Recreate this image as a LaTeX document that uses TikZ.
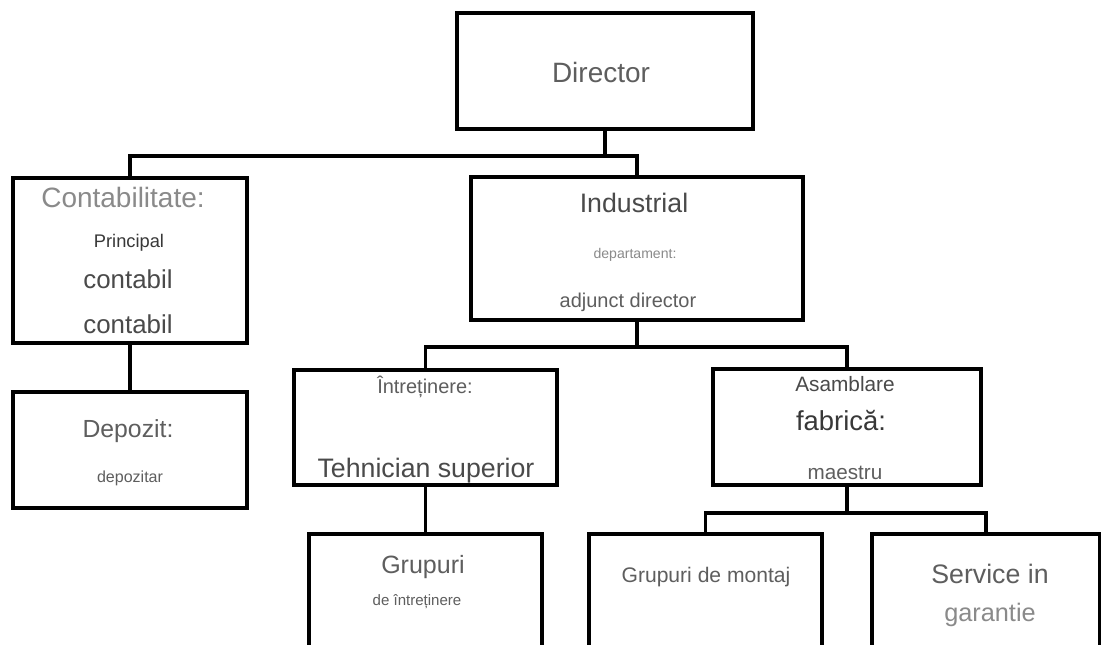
\documentclass[tikz,border=0pt]{standalone}
\usepackage{fontspec}
\setmainfont{Liberation Sans}
\usetikzlibrary{calc}
\definecolor{inkdark}{HTML}{383838}
\definecolor{inkmid}{HTML}{4A4A4A}
\definecolor{inksoft}{HTML}{5E5E5E}
\definecolor{inkpale}{HTML}{8A8A8A}
\tikzset{
  box/.style={draw, line width=2.8pt, line join=miter, inner sep=0pt},
  link/.style={line width=2.8pt, line join=miter},
  lbl/.style={anchor=base, inner sep=0pt, font=\fontsize{#1}{#1}\selectfont},
}
\begin{document}
\begin{tikzpicture}[x=0.025cm, y=-0.025cm]
  \useasboundingbox (0,0) rectangle (1101,645);
  \fill[white] (0,0) rectangle (1101,645);
  \clip (0,0) rectangle (1101,645);
  % boxes
  \node[box, minimum width=7.4cm, minimum height=2.9cm] (dir) at (605,71) {};
  \node[box, minimum width=5.85cm, minimum height=4.125cm] (cont) at (130,260.5) {};
  \node[box, minimum width=8.3cm, minimum height=3.575cm] (ind) at (637,248.5) {};
  \node[box, minimum width=5.85cm, minimum height=2.9cm] (dep) at (130,450) {};
  \node[box, minimum width=6.575cm, minimum height=2.875cm] (intr) at (425.5,427.5) {};
  \node[box, minimum width=6.7cm, minimum height=2.9cm] (asm) at (847,427) {};
  \node[box, minimum width=5.825cm, minimum height=4.15cm] (grup) at (425.5,617) {};
  \node[box, minimum width=5.825cm, minimum height=4.15cm] (mont) at (705.5,617) {};
  \node[box, minimum width=5.7cm, minimum height=4.15cm] (serv) at (986,617) {};
  % connectors
  \draw[link] (dir.south) -- ++(0,25) coordinate (busA);
  \draw[link] (cont.north) |- (busA) -| (ind.north);
  \draw[link] (ind.south) -- ++(0,25) coordinate (busB);
  \draw[link] (intr.north) |- (busB) -| (asm.north);
  \draw[link] (asm.south) -- ++(0,26) coordinate (busC);
  \draw[link] (mont.north) |- (busC) -| (serv.north);
  \draw[link] (cont.south) -- (dep.north);
  \draw[link] (intr.south) -- (grup.north);
  % texts
  \node[lbl=19.9pt, text=inksoft] (dirA) at (601,82) {Director};
  \node[lbl=19.9pt, text=inkpale] (contA) at (123,207) {Contabilitate:};
  \node[lbl=13pt, text=inkdark] (contB) at (129,247) {Principal};
  \node[lbl=18.4pt, text=inkmid] (contC) at (128,288) {contabil};
  \node[lbl=18.4pt, text=inkmid] (contD) at (128,333) {contabil};
  \node[lbl=19pt, text=inkmid] (indA) at (634,212) {Industrial};
  \node[lbl=10pt, text=inkpale] (indB) at (635,258) {departament:};
  \node[lbl=14.2pt, text=inksoft] (indC) at (628,307) {adjunct director};
  \node[lbl=17.6pt, text=inksoft] (depA) at (128,437) {Depozit:};
  \node[lbl=11.4pt, text=inksoft] (depB) at (130,482) {depozitar};
  \node[lbl=14.2pt, text=inksoft] (intrA) at (425,393) {Întreținere:};
  \node[lbl=19pt, text=inkmid] (intrB) at (426,477) {Tehnician superior};
  \node[lbl=14.8pt, text=inkmid] (asmA) at (845,391) {Asamblare};
  \node[lbl=19.5pt, text=inkdark] (asmB) at (841,430) {fabrică:};
  \node[lbl=14.7pt, text=inksoft] (asmC) at (845,479) {maestru};
  \node[lbl=17.8pt, text=inksoft] (grupA) at (423,573) {Grupuri};
  \node[lbl=10.7pt, text=inksoft] (grupB) at (417,605) {de întreținere};
  \node[lbl=15pt, text=inksoft] (montA) at (706,582) {Grupuri de montaj};
  \node[lbl=19pt, text=inksoft] (servA) at (990,583) {Service in};
  \node[lbl=18pt, text=inkpale] (servB) at (990,621) {garantie};
\end{tikzpicture}
\end{document}
